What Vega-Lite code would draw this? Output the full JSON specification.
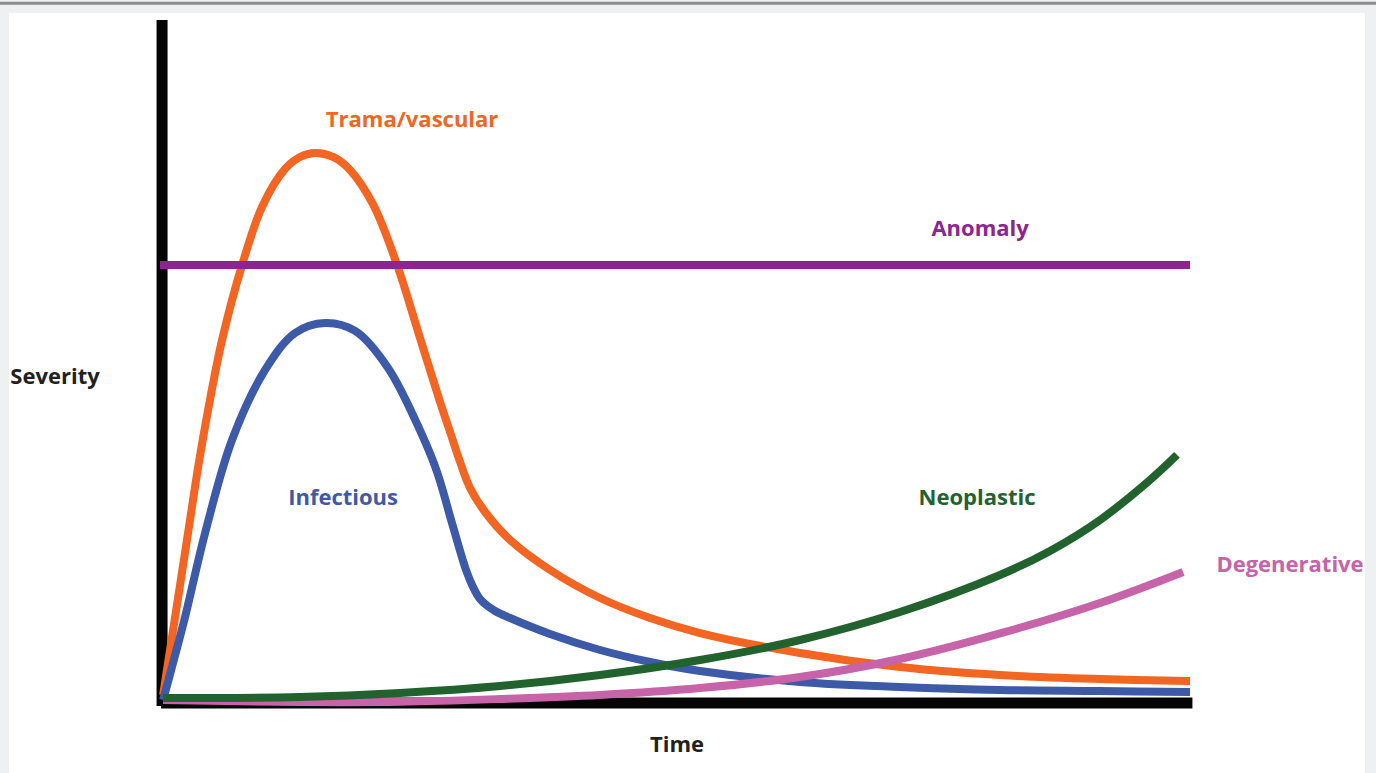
{
  "$schema": "https://vega.github.io/schema/vega-lite/v6.json",
  "width": 1356,
  "height": 760,
  "autosize": {"type": "none"},
  "padding": {"left": 9, "top": 13, "right": 11, "bottom": 0},
  "background": "#eff0f2",
  "config": {"view": {"fill": "#ffffff", "stroke": null}},
  "datasets": {
    "curves": [
      {"series": "Trama/vascular", "t": 0.1, "s": 1.29},
      {"series": "Trama/vascular", "t": 1.27, "s": 12.58},
      {"series": "Trama/vascular", "t": 2.53, "s": 24.74},
      {"series": "Trama/vascular", "t": 3.5, "s": 34.15},
      {"series": "Trama/vascular", "t": 4.48, "s": 42.54},
      {"series": "Trama/vascular", "t": 5.84, "s": 52.67},
      {"series": "Trama/vascular", "t": 7.79, "s": 63.53},
      {"series": "Trama/vascular", "t": 9.73, "s": 71.93},
      {"series": "Trama/vascular", "t": 11.97, "s": 77.43},
      {"series": "Trama/vascular", "t": 13.43, "s": 79.16},
      {"series": "Trama/vascular", "t": 14.89, "s": 79.74},
      {"series": "Trama/vascular", "t": 16.65, "s": 79.16},
      {"series": "Trama/vascular", "t": 18.3, "s": 77.28},
      {"series": "Trama/vascular", "t": 20.54, "s": 72.29},
      {"series": "Trama/vascular", "t": 22.88, "s": 63.53},
      {"series": "Trama/vascular", "t": 25.11, "s": 52.96},
      {"series": "Trama/vascular", "t": 27.06, "s": 43.7},
      {"series": "Trama/vascular", "t": 28.23, "s": 38.49},
      {"series": "Trama/vascular", "t": 29.01, "s": 35.01},
      {"series": "Trama/vascular", "t": 29.98, "s": 31.25},
      {"series": "Trama/vascular", "t": 31.44, "s": 27.78},
      {"series": "Trama/vascular", "t": 33.88, "s": 23.72},
      {"series": "Trama/vascular", "t": 37.77, "s": 19.38},
      {"series": "Trama/vascular", "t": 42.64, "s": 15.33},
      {"series": "Trama/vascular", "t": 47.51, "s": 12.43},
      {"series": "Trama/vascular", "t": 52.37, "s": 10.26},
      {"series": "Trama/vascular", "t": 62.1, "s": 7.37},
      {"series": "Trama/vascular", "t": 71.84, "s": 5.34},
      {"series": "Trama/vascular", "t": 81.57, "s": 4.18},
      {"series": "Trama/vascular", "t": 91.31, "s": 3.6},
      {"series": "Trama/vascular", "t": 100.07, "s": 3.31},
      {"series": "Infectious", "t": 0.1, "s": 0.56},
      {"series": "Infectious", "t": 1.17, "s": 6.5},
      {"series": "Infectious", "t": 2.24, "s": 12.58},
      {"series": "Infectious", "t": 4.19, "s": 24.74},
      {"series": "Infectious", "t": 6.81, "s": 38.2},
      {"series": "Infectious", "t": 10.03, "s": 48.33},
      {"series": "Infectious", "t": 12.95, "s": 53.69},
      {"series": "Infectious", "t": 15.87, "s": 55.13},
      {"series": "Infectious", "t": 18.79, "s": 53.98},
      {"series": "Infectious", "t": 22.0, "s": 48.62},
      {"series": "Infectious", "t": 25.31, "s": 38.93},
      {"series": "Infectious", "t": 26.77, "s": 33.57},
      {"series": "Infectious", "t": 28.33, "s": 25.61},
      {"series": "Infectious", "t": 29.59, "s": 19.38},
      {"series": "Infectious", "t": 30.18, "s": 17.21},
      {"series": "Infectious", "t": 30.96, "s": 15.18},
      {"series": "Infectious", "t": 32.42, "s": 13.45},
      {"series": "Infectious", "t": 33.88, "s": 12.43},
      {"series": "Infectious", "t": 37.77, "s": 10.12},
      {"series": "Infectious", "t": 42.64, "s": 7.8},
      {"series": "Infectious", "t": 47.51, "s": 6.07},
      {"series": "Infectious", "t": 52.37, "s": 4.77},
      {"series": "Infectious", "t": 62.1, "s": 3.17},
      {"series": "Infectious", "t": 71.84, "s": 2.45},
      {"series": "Infectious", "t": 81.57, "s": 2.01},
      {"series": "Infectious", "t": 91.31, "s": 1.87},
      {"series": "Infectious", "t": 100.07, "s": 1.72},
      {"series": "Degenerative", "t": 0.1, "s": 0.56},
      {"series": "Degenerative", "t": 13.43, "s": 0.27},
      {"series": "Degenerative", "t": 23.17, "s": 0.3},
      {"series": "Degenerative", "t": 32.9, "s": 0.71},
      {"series": "Degenerative", "t": 42.64, "s": 1.3},
      {"series": "Degenerative", "t": 52.37, "s": 2.3},
      {"series": "Degenerative", "t": 62.1, "s": 3.89},
      {"series": "Degenerative", "t": 71.84, "s": 6.5},
      {"series": "Degenerative", "t": 81.57, "s": 10.2},
      {"series": "Degenerative", "t": 91.31, "s": 14.6},
      {"series": "Degenerative", "t": 99.39, "s": 19.09},
      {"series": "Neoplastic", "t": 0.1, "s": 0.85},
      {"series": "Neoplastic", "t": 13.43, "s": 1.0},
      {"series": "Neoplastic", "t": 23.17, "s": 1.58},
      {"series": "Neoplastic", "t": 32.9, "s": 2.59},
      {"series": "Neoplastic", "t": 42.64, "s": 4.18},
      {"series": "Neoplastic", "t": 52.37, "s": 6.35},
      {"series": "Neoplastic", "t": 62.1, "s": 9.25},
      {"series": "Neoplastic", "t": 71.84, "s": 13.3},
      {"series": "Neoplastic", "t": 81.57, "s": 18.66},
      {"series": "Neoplastic", "t": 86.44, "s": 22.14},
      {"series": "Neoplastic", "t": 91.31, "s": 26.63},
      {"series": "Neoplastic", "t": 96.17, "s": 32.41},
      {"series": "Neoplastic", "t": 98.8, "s": 36.03},
      {"series": "Anomaly", "t": -0.2, "s": 63.53},
      {"series": "Anomaly", "t": 100.07, "s": 63.53}
    ],
    "labels": [
      {"label": "Trama/vascular", "t": 24.34, "s": 84.53, "c": "#f26522"},
      {"label": "Anomaly", "t": 79.63, "s": 68.74, "c": "#8e2491"},
      {"label": "Infectious", "t": 17.62, "s": 29.8, "c": "#3d5aa8"},
      {"label": "Neoplastic", "t": 79.33, "s": 29.8, "c": "#22622f"},
      {"label": "Degenerative", "t": 109.8, "s": 20.14, "c": "#c763a8"},
      {"label": "Severity", "t": -10.42, "s": 47.31, "c": "#231f20"},
      {"label": "Time", "t": 50.13, "s": -5.95, "c": "#231f20"}
    ],
    "frame": [
      {"part": "vertical", "t": 0, "t2": 0, "s": -0.3, "s2": 99},
      {"part": "horizontal", "t": -0.1, "t2": 100.3, "s": 0.13, "s2": 0.13}
    ],
    "topline": [
      {"t": -15.8, "t2": 118.2, "s": 101.4}
    ]
  },
  "layer": [
    {
      "data": {"name": "topline"},
      "mark": {"type": "rule", "color": "#8c8c8c", "strokeWidth": 3, "clip": false},
      "encoding": {
        "x": {"field": "t", "type": "quantitative", "scale": {"domain": [-14.9, 117.1], "nice": false, "zero": false}, "axis": null},
        "x2": {"field": "t2"},
        "y": {"field": "s", "type": "quantitative", "scale": {"domain": [-10, 100], "nice": false, "zero": false}, "axis": null}
      }
    },
    {
      "data": {"name": "frame"},
      "mark": {"type": "rule", "color": "#050505", "strokeWidth": 11, "strokeCap": "butt"},
      "encoding": {
        "x": {"field": "t", "type": "quantitative"},
        "x2": {"field": "t2"},
        "y": {"field": "s", "type": "quantitative"},
        "y2": {"field": "s2"}
      }
    },
    {
      "data": {"name": "curves"},
      "mark": {"type": "line", "strokeWidth": 8, "strokeCap": "butt", "strokeJoin": "round", "interpolate": "catmull-rom"},
      "encoding": {
        "x": {"field": "t", "type": "quantitative"},
        "y": {"field": "s", "type": "quantitative"},
        "color": {
          "field": "series",
          "type": "nominal",
          "scale": {
            "domain": ["Trama/vascular", "Infectious", "Degenerative", "Neoplastic", "Anomaly"],
            "range": ["#f26522", "#3d5aa8", "#c763a8", "#22622f", "#8e2491"]
          },
          "legend": null
        }
      }
    },
    {
      "data": {"name": "labels"},
      "mark": {"type": "text", "font": "Open Sans", "fontWeight": "bold", "fontSize": 22, "align": "center", "baseline": "middle"},
      "encoding": {
        "x": {"field": "t", "type": "quantitative"},
        "y": {"field": "s", "type": "quantitative"},
        "text": {"field": "label"},
        "color": {"field": "c", "type": "nominal", "scale": null}
      }
    }
  ]
}
